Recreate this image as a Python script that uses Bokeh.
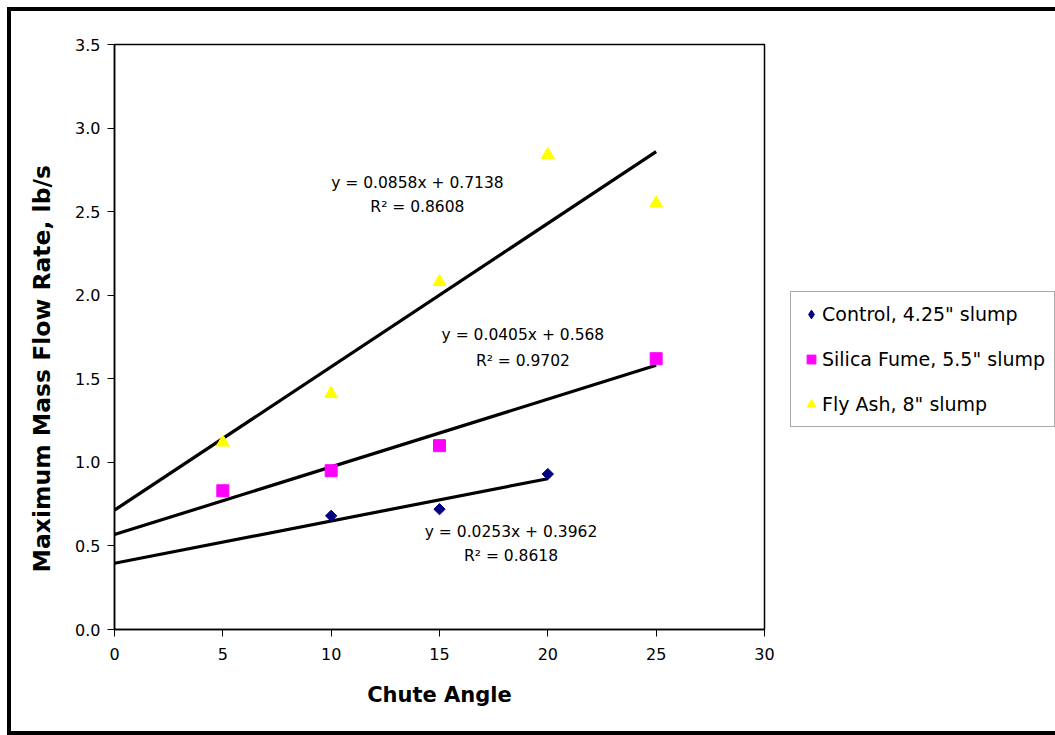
from math import pi

from bokeh.core.properties import value
from bokeh.embed import file_html
from bokeh.layouts import row
from bokeh.models import (FixedTicker, Legend, LegendItem, PrintfTickFormatter,
                          Range1d, Title)
from bokeh.plotting import figure
from bokeh.resources import INLINE

FONT = "DejaVu Sans"

# Measured maximum mass flow rate (lb/s) against chute angle (degrees)
angles_control = [10, 15, 20]
flow_control = [0.68, 0.72, 0.93]

angles_silica = [5, 10, 15, 25]
flow_silica = [0.83, 0.95, 1.10, 1.62]

angles_flyash = [5, 10, 15, 20, 25]
flow_flyash = [1.12, 1.41, 2.08, 2.84, 2.55]

series_names = ['Control, 4.25" slump', 'Silica Fume, 5.5" slump', 'Fly Ash, 8" slump']
series_colors = ["#000080", "#FF00FF", "#FFFF00"]

# Linear trend lines: y = slope * x + intercept
slopes = [0.0253, 0.0405, 0.0858]
intercepts = [0.3962, 0.568, 0.7138]
r_squared = [0.8618, 0.9702, 0.8608]
fit_x_start = [0, 0, 0]
fit_x_end = [20, 25, 25]

# Where each trend-line equation is written (data coordinates)
eq_anchor_x = [18.3, 18.85, 13.98]
eq_anchor_y = [0.586, 1.759, 2.674]
r2_anchor_y = [0.437, 1.609, 2.525]

x_ticks = [0, 5, 10, 15, 20, 25, 30]
y_ticks = [0.0, 0.5, 1.0, 1.5, 2.0, 2.5, 3.0, 3.5]

# ---------------------------------------------------------------- main chart
p = figure(
    width=779, height=720,
    x_range=Range1d(0, 30), y_range=Range1d(0, 3.5),
    output_backend="svg", toolbar_location=None,
    min_border_left=103, min_border_right=26,
    min_border_top=33, min_border_bottom=102,
)
p.background_fill_color = "white"
p.border_fill_color = "white"
p.outline_line_color = "black"
p.outline_line_width = 1.5
p.xgrid.visible = False
p.ygrid.visible = False

for ax in (p.xaxis[0], p.yaxis[0]):
    ax.axis_line_color = "black"
    ax.axis_line_width = 1.5
    ax.major_tick_line_color = "black"
    ax.major_tick_line_width = 1
    ax.major_tick_in = 0
    ax.major_tick_out = 7
    ax.minor_tick_line_color = None
    ax.major_label_text_font = FONT
    ax.major_label_text_font_size = "16px"
    ax.major_label_text_color = "black"

p.xaxis.ticker = FixedTicker(ticks=x_ticks)
p.yaxis.ticker = FixedTicker(ticks=y_ticks)
p.yaxis.formatter = PrintfTickFormatter(format="%.1f")
p.xaxis.formatter = PrintfTickFormatter(format="%d")
p.yaxis.major_label_standoff = 7
p.xaxis.major_label_standoff = 11

p.xaxis.axis_label = "Chute Angle"
p.xaxis.axis_label_text_font = FONT
p.xaxis.axis_label_text_font_style = "bold"
p.xaxis.axis_label_text_font_size = "21px"
p.xaxis.axis_label_text_color = "black"
p.xaxis.axis_label_standoff = 20

# Vertical axis title, set slightly below the middle of the plot area
p.add_layout(Title(
    text="Maximum Mass Flow Rate, lb/s",
    align="left", offset=57, vertical_align="middle", standoff=31,
    text_font=FONT, text_font_style="bold", text_font_size="23.5px",
    text_color="black",
), "left")

# Trend lines
for k in range(3):
    xs = [fit_x_start[k], fit_x_end[k]]
    ys = [slopes[k] * x + intercepts[k] for x in xs]
    p.line(xs, ys, line_color="black", line_width=3.2)

# Data points
p.scatter(angles_control, flow_control, marker="square", angle=pi / 4, size=8,
          fill_color=series_colors[0], line_color=series_colors[0])
p.scatter(angles_silica, flow_silica, marker="square", size=12,
          fill_color=series_colors[1], line_color=series_colors[1])
p.scatter(angles_flyash, flow_flyash, marker="triangle", size=13,
          fill_color=series_colors[2], line_color=series_colors[2])

# Equations of the trend lines
eq_text = [f"y = {s:g}x + {b:g}" for s, b in zip(slopes, intercepts)]
r2_text = [f"R\u00b2 = {r:.4f}" for r in r_squared]
p.text(x=eq_anchor_x, y=eq_anchor_y, text=eq_text, text_font=value(FONT),
       text_font_size="15.5px", text_align="center", text_baseline="middle",
       text_color="black")
p.text(x=eq_anchor_x, y=r2_anchor_y, text=r2_text, text_font=value(FONT),
       text_font_size="15.5px", text_align="center", text_baseline="middle",
       text_color="black")

# ---------------------------------------------------------------- legend strip
# A bare companion canvas that only carries the legend box; its renderers hold
# the series but sit outside its (unit) ranges, so only their legend keys show.
pl = figure(
    width=265, height=720,
    x_range=Range1d(0, 1), y_range=Range1d(0, 1),
    output_backend="svg", toolbar_location=None, min_border=0,
)
pl.axis.visible = False
pl.grid.visible = False
pl.outline_line_color = None
pl.background_fill_color = "white"
pl.border_fill_color = "white"

key_control = pl.scatter(angles_control, flow_control, marker="diamond", size=12,
                         fill_color=series_colors[0], line_color=series_colors[0])
key_silica = pl.scatter(angles_silica, flow_silica, marker="square", size=12,
                        fill_color=series_colors[1], line_color=series_colors[1])
key_flyash = pl.scatter(angles_flyash, flow_flyash, marker="triangle", size=13,
                        fill_color=series_colors[2], line_color=series_colors[2])

legend = Legend(
    items=[
        LegendItem(label=series_names[0], renderers=[key_control]),
        LegendItem(label=series_names[1], renderers=[key_silica]),
        LegendItem(label=series_names[2], renderers=[key_flyash]),
    ],
    location=(0, 202),
    orientation="vertical",
    padding=9, spacing=19, margin=0,
    glyph_width=22, glyph_height=26, label_height=26,
    label_standoff=0,
    label_text_font=FONT, label_text_font_size="19px", label_text_color="black",
    border_line_color="#555555", border_line_width=1,
    background_fill_color="white", background_fill_alpha=1,
)
pl.add_layout(legend)

# Heavy frame round the whole chart, open on the right-hand side
layout = row(p, pl, spacing=0)
layout.margin = (7, 0, 0, 7)
layout.styles = {
    "border-top": "4px solid black",
    "border-left": "4px solid black",
    "border-bottom": "4px solid black",
    "border-right": "none",
}

open("out.html", "w").write(file_html(layout, INLINE))
